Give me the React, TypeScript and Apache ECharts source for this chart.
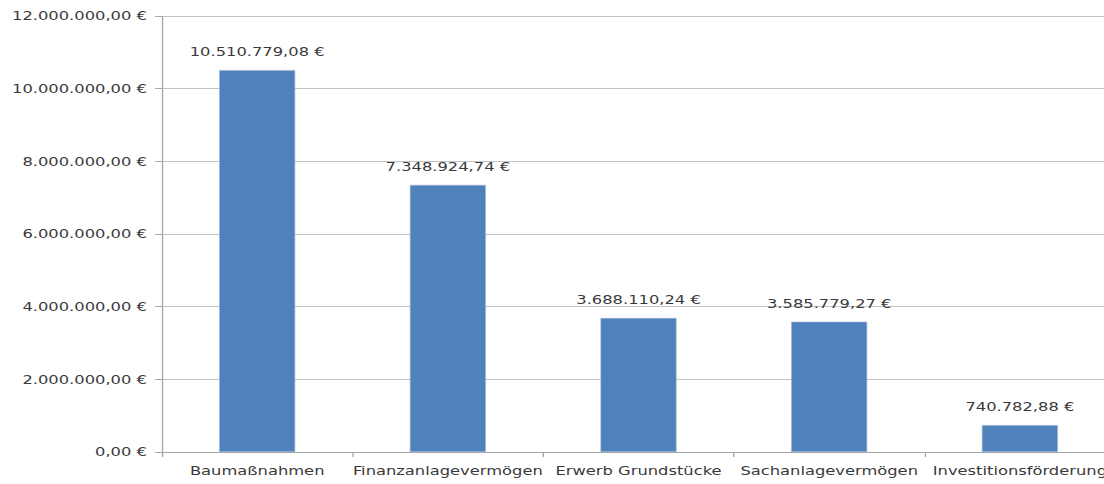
import React, { useEffect, useRef } from "react";
import * as echarts from "echarts";

const categories = [
  "Baumaßnahmen",
  "Finanzanlagevermögen",
  "Erwerb Grundstücke",
  "Sachanlagevermögen",
  "Investitionsförderung",
];
const values = [10510779.08, 7348924.74, 3688110.24, 3585779.27, 740782.88];
const yMin = 0;
const yMax = 12000000;
const yInterval = 2000000;

const STRETCH = 1.36;
const PAGE_W = 1104;
const PAGE_H = 484;
const INNER_W = 840;

function fmtEuro(v: number): string {
  const [i, d] = v.toFixed(2).split(".");
  return i.replace(/\B(?=(\d{3})+(?!\d))/g, ".") + "," + d + " €";
}

export default function App() {
  const ref = useRef<HTMLDivElement>(null);
  useEffect(() => {
    document.body.style.margin = "0";
    if (!ref.current) return;
    const chart = echarts.init(ref.current, undefined, { renderer: "svg" });
    const font = "DejaVu Sans";
    chart.setOption({
      animation: false,
      backgroundColor: "#ffffff",
      grid: { left: 119, right: INNER_W - 119 - 701, top: 16, bottom: 32, containLabel: false },
      xAxis: {
        type: "category",
        data: categories,
        axisLine: { show: true, lineStyle: { color: "#a6a6a6", width: 1 } },
        axisTick: { show: true, alignWithLabel: false, length: 5, lineStyle: { color: "#a6a6a6" } },
        axisLabel: {
          interval: 0,
          margin: 13,
          fontFamily: font,
          fontSize: 12,
          color: "#3a3a3a",
        },
        splitLine: { show: false },
      },
      yAxis: {
        type: "value",
        min: yMin,
        max: yMax,
        interval: yInterval,
        axisLine: { show: true, lineStyle: { color: "#a6a6a6", width: 1 } },
        axisTick: { show: true, length: 5, lineStyle: { color: "#a6a6a6" } },
        axisLabel: {
          margin: 11,
          fontFamily: font,
          fontSize: 12,
          color: "#3a3a3a",
          formatter: (v: number) => fmtEuro(v),
        },
        splitLine: { show: true, lineStyle: { color: "#c4c4c4", width: 1 } },
      },
      series: [
        {
          type: "bar",
          data: values,
          barWidth: 56,
          itemStyle: { color: "#4f81bd", borderColor: "#9fb3cc", borderWidth: 0.6 },
          label: {
            show: true,
            position: "top",
            distance: 12,
            fontFamily: font,
            fontSize: 12,
            color: "#3a3a3a",
            formatter: (p: any) => fmtEuro(p.value),
          },
        },
      ],
    });
    return () => chart.dispose();
  }, []);
  return (
    <div
      style={{
        position: "absolute",
        left: 0,
        top: 0,
        width: PAGE_W,
        height: PAGE_H,
        overflow: "hidden",
        background: "#fff",
      }}
    >
      <div
        ref={ref}
        style={{
          width: INNER_W,
          height: PAGE_H,
          transform: `scaleX(${STRETCH})`,
          transformOrigin: "0 0",
        }}
      />
    </div>
  );
}
